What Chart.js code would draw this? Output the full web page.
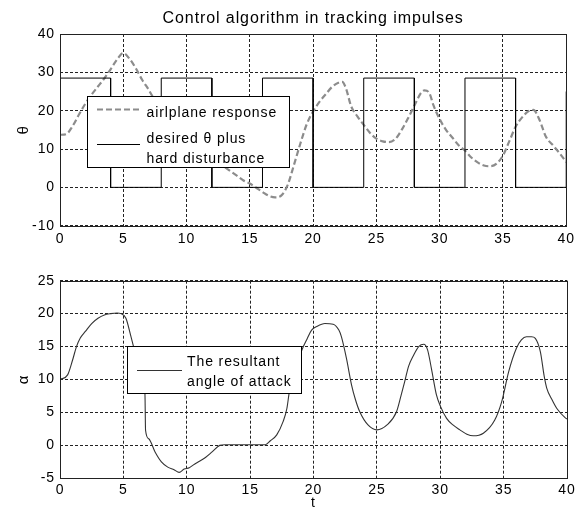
<!DOCTYPE html>
<html><head><meta charset="utf-8">
<script src="https://cdn.jsdelivr.net/npm/chart.js@4.4.1/dist/chart.umd.min.js"></script>
<style>
html,body{margin:0;padding:0;background:#fff;}
canvas{position:absolute;left:0;display:block;}
#c1{top:0;}
#c2{top:250px;}
</style></head><body>
<canvas id="c1" width="579" height="250"></canvas>
<canvas id="c2" width="579" height="265"></canvas>
<script>
// ---------- DATA ----------
const titleText = "Control algorithm in tracking impulses";
const topLegendLabels = ["airlplane response", "desired \u03b8 plus", "hard disturbance"];
const bottomLegendLabels = ["The resultant", "angle of attack"];
const topYLabel = "\u03b8";
const bottomYLabel = "\u03b1";
const xLabel = "t";

// airplane response (theta)
const tTheta = [0,0.5,1,1.5,2,2.5,3,3.5,4,4.5,5,5.5,6,6.5,7,7.5,8,9,10,11,12,13,14,14.5,15,15.5,16,16.5,17,17.5,18,18.5,19,19.5,20,20.5,21,21.5,22,22.3,22.6,23,23.5,24,24.5,25,25.5,26,26.5,27,27.5,28,28.5,28.8,29.2,29.5,30,30.5,31,31.5,32,32.5,33,33.5,34,34.5,35,35.5,36,36.5,37,37.4,37.9,38.4,39,39.5,40];
const thetaResp = [13.7,13.9,16,19,21.8,24.2,26.3,28.4,30.8,33.3,35,33.5,31,28,25.5,22.6,20.5,16.5,13,10,7.5,5.3,3,1.8,1,-0.1,-1.2,-2.2,-2.6,-2.1,0.7,6,11.5,16.5,19.8,22.3,24.3,26.2,27.3,27.5,25.8,21.2,18.5,16.3,14.2,12.7,12,11.8,12.6,15,18,21.3,24.5,25.3,24.5,21.5,17.8,15,13,11,9.6,7.8,6.5,5.7,5.5,6.2,8.3,12,15.8,18.2,19.8,20.2,17.5,13.2,10.8,8.8,6.6];

// desired theta plus hard disturbance (square wave)
const tSquare = [0,4,4,8,8,12,12,16,16,20,20,24,24,28,28,32,32,36,36,40,40];
const thetaDesired = [28.5,28.5,0,0,28.5,28.5,0,0,28.5,28.5,0,0,28.5,28.5,0,0,28.5,28.5,0,0,25];

// resultant angle of attack
const tAlpha = [0,0.6,1,1.3,1.6,2,2.5,3,3.5,4,4.5,4.8,5.2,5.6,6,6.4,6.7,6.75,7,7.5,8,8.5,9,9.4,9.8,10.2,10.5,11,11.5,12,12.6,13,14,15,16.2,16.6,17.1,17.6,17.9,18.1,18.6,19.2,19.5,19.85,20.3,20.9,21.55,22,22.2,22.6,23,23.3,23.65,24.3,25,25.8,26.55,26.9,27.2,27.5,27.9,28.3,28.7,29,29.3,29.7,30,30.5,31,31.55,32.1,32.6,33.4,34.3,34.85,35.4,36,36.4,36.8,37.2,37.5,37.9,38.2,38.4,38.8,39.2,39.85,40];
const alphaVals = [10,10.7,13,15,16.3,17.3,18.5,19.3,19.8,20,20.1,20,19.3,16.5,13.5,10.5,8,2.3,1,-1,-2.5,-3.3,-3.7,-4.1,-3.6,-3.4,-3,-2.4,-1.8,-1,0,0.1,0.1,0.1,0.1,0.7,1.6,3.6,5.6,8.2,12,15,16.2,17.5,18.1,18.5,18.4,17.5,16.5,13.2,9.2,7,5.1,3.1,2.35,3.1,5.1,7.5,9.7,12,13.7,15,15.35,14.5,11.7,7.65,6,4.1,3.1,2.35,1.7,1.45,1.85,3.85,6.65,11.2,14.7,16,16.5,16.5,16.25,14.2,10.5,8.7,7,5.6,4.2,4];

// ---------- STYLE ----------
const FONT = "'Liberation Sans', Arial, sans-serif";
const GRID = '#222';
const RESP_COLOR = '#8c8c8c';
const pts = (xs, ys) => xs.map((x, i) => ({x, y: ys[i]}));

const spacing = {
  id: 'spacing',
  beforeDraw(chart) { chart.ctx.letterSpacing = '0.9px'; }
};
const frame = {
  id: 'frame',
  afterDatasetsDraw(chart) {
    const {ctx, chartArea: a} = chart;
    ctx.save();
    ctx.strokeStyle = '#222';
    ctx.lineWidth = 1;
    ctx.setLineDash([]);
    const l = Math.round(a.left) + 0.5, t = Math.round(a.top) + 0.5;
    const r = Math.round(a.right) + 0.5, b = Math.round(a.bottom) + 0.5;
    ctx.strokeRect(l, t, r - l, b - t);
    ctx.restore();
  }
};
function legendPlugin(drawFn) {
  return { id: 'boxlegend', afterDraw(chart) { const ctx = chart.ctx; ctx.save(); drawFn(ctx); ctx.restore(); } };
}
function xScale(pad, height, titleOpt) {
  return {
    type: 'linear', min: 0, max: 40,
    ticks: {stepSize: 5, color: '#000', font: {family: FONT, size: 14}, padding: pad, maxRotation: 0, autoSkip: false},
    grid: {color: GRID, lineWidth: 1, drawTicks: false},
    border: {display: false, dash: [3, 2]},
    title: titleOpt,
    afterFit(s) { s.height = height; }
  };
}
function yScale(min, max, step, label) {
  return {
    type: 'linear', min, max,
    ticks: {stepSize: step, color: '#000', font: {family: FONT, size: 14}, padding: 5},
    grid: {color: GRID, lineWidth: 1, drawTicks: false},
    border: {display: false, dash: [3, 2]},
    title: {display: true, text: label, color: '#000', font: {family: FONT, size: 15}, padding: {top: 15, bottom: 0}},
    afterFit(s) { s.width = 60; }
  };
}

// ---------- TOP CHART ----------
new Chart(document.getElementById('c1'), {
  type: 'line',
  data: {
    datasets: [
      {data: pts(tSquare, thetaDesired), borderColor: '#000', borderWidth: 1, pointRadius: 0, tension: 0, fill: false},
      {data: pts(tTheta, thetaResp), borderColor: RESP_COLOR, borderWidth: 2.2, borderDash: [6, 3], pointRadius: 0, cubicInterpolationMode: 'monotone', fill: false}
    ]
  },
  options: {
    responsive: false, animation: false,
    layout: {padding: {left: 0, right: 12, top: 0, bottom: 0}},
    plugins: {
      legend: {display: false}, tooltip: {enabled: false},
      title: {display: true, text: titleText, fullSize: false, color: '#000', font: {family: FONT, size: 16, weight: 'normal'}, padding: {top: 9.4, bottom: 5.4}}
    },
    scales: {x: xScale(5, 24.3, {display: false}), y: yScale(-10, 40, 10, topYLabel)}
  },
  plugins: [spacing, frame, legendPlugin(ctx => {
    ctx.fillStyle = '#fff'; ctx.strokeStyle = '#000'; ctx.lineWidth = 1;
    ctx.fillRect(87.5, 96.5, 202, 71); ctx.strokeRect(87.5, 96.5, 202, 71);
    ctx.strokeStyle = RESP_COLOR; ctx.lineWidth = 2.2; ctx.setLineDash([6, 3]);
    ctx.beginPath(); ctx.moveTo(97, 109.5); ctx.lineTo(140, 109.5); ctx.stroke();
    ctx.setLineDash([]); ctx.strokeStyle = '#000'; ctx.lineWidth = 1;
    ctx.beginPath(); ctx.moveTo(97, 144.5); ctx.lineTo(140, 144.5); ctx.stroke();
    ctx.fillStyle = '#000'; ctx.font = "14px " + FONT; ctx.textBaseline = 'alphabetic'; ctx.textAlign = 'left';
    ctx.fillText(topLegendLabels[0], 146.5, 116.5);
    ctx.fillText(topLegendLabels[1], 146.5, 142.5);
    ctx.fillText(topLegendLabels[2], 146.5, 162.5);
  })]
});

// ---------- BOTTOM CHART ----------
new Chart(document.getElementById('c2'), {
  type: 'line',
  data: {
    datasets: [
      {data: pts(tAlpha, alphaVals), borderColor: '#333', borderWidth: 1.1, pointRadius: 0, cubicInterpolationMode: 'monotone', fill: false}
    ]
  },
  options: {
    responsive: false, animation: false,
    layout: {padding: {left: 0, right: 12, top: 30.7, bottom: 0}},
    plugins: {legend: {display: false}, tooltip: {enabled: false}, title: {display: false}},
    scales: {
      x: xScale(3.5, 36.7, {display: true, text: xLabel, color: '#000', font: {family: FONT, size: 14}, padding: {top: 0, bottom: 3.6}}),
      y: yScale(-5, 25, 5, bottomYLabel)
    }
  },
  plugins: [spacing, frame, legendPlugin(ctx => {
    ctx.fillStyle = '#fff'; ctx.strokeStyle = '#000'; ctx.lineWidth = 1;
    ctx.fillRect(127.5, 96.5, 174, 47); ctx.strokeRect(127.5, 96.5, 174, 47);
    ctx.strokeStyle = '#333'; ctx.lineWidth = 1.1;
    ctx.beginPath(); ctx.moveTo(137, 120.5); ctx.lineTo(182, 120.5); ctx.stroke();
    ctx.fillStyle = '#000'; ctx.font = "14px " + FONT; ctx.textBaseline = 'alphabetic'; ctx.textAlign = 'left';
    ctx.fillText(bottomLegendLabels[0], 187, 116);
    ctx.fillText(bottomLegendLabels[1], 187, 135.7);
  })]
});
</script>
</body></html>
